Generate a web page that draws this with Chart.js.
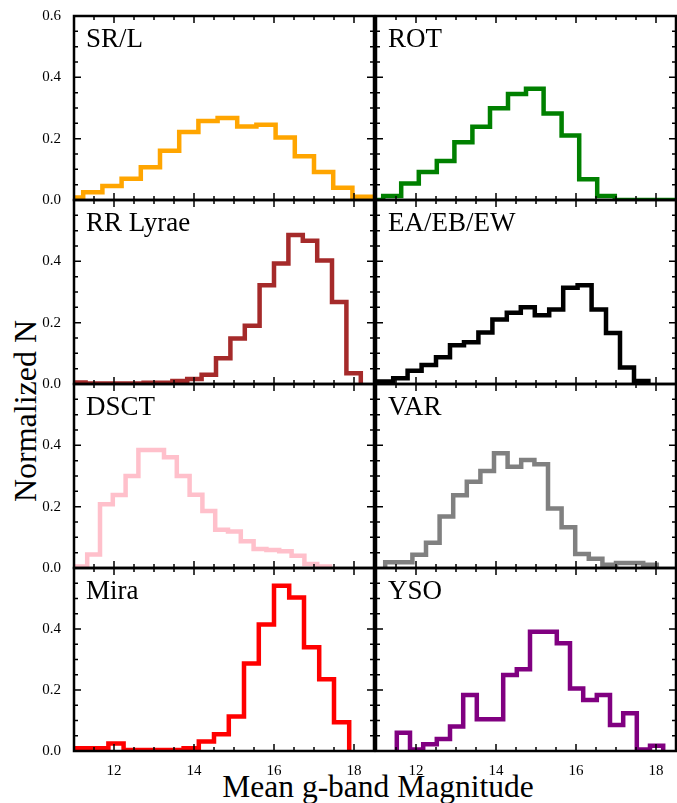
<!DOCTYPE html>
<html>
<head>
<meta charset="utf-8">
<title>Mean g-band Magnitude by variable type</title>
<script src="https://cdn.jsdelivr.net/npm/chart.js@4.4.0/dist/chart.umd.min.js"></script>
<style>
  html, body { margin: 0; padding: 0; background: #fff; }
  #wrap { position: relative; width: 677px; height: 803px; overflow: hidden; font-family: 'Liberation Serif', serif; color: #000; }
  #wrap canvas { position: absolute; left: 0; top: 0; }
  .axis-title { position: absolute; white-space: nowrap; line-height: 1; }
  #xTitle { left: 378px; top: 771px; font-size: 31.5px; transform: translateX(-50%); }
  #yTitle { left: 25px; top: 411px; font-size: 32px; transform: translate(-50%, -50%) rotate(-90deg); }
</style>
</head>
<body>
<div id="wrap">
  <div class="axis-title" id="xTitle">Mean g-band Magnitude</div>
  <div class="axis-title" id="yTitle">Normalized N</div>
</div>
<script>
// Bin edges and normalized counts
const srlEdges = [10.75, 11.23, 11.71, 12.19, 12.67, 13.15, 13.63, 14.11, 14.59, 15.08, 15.56, 16.04, 16.52, 17.00, 17.48, 17.96, 18.44];
const srlValues = [0.008, 0.025, 0.046, 0.069, 0.107, 0.161, 0.222, 0.258, 0.267, 0.240, 0.245, 0.204, 0.143, 0.091, 0.040, 0.011];

const rotEdges = [10.73, 11.18, 11.63, 12.07, 12.52, 12.96, 13.41, 13.85, 14.30, 14.75, 15.19, 15.64, 16.08, 16.53, 16.97, 17.42, 17.86, 18.31, 18.76];
const rotValues = [0, 0.013, 0.054, 0.091, 0.127, 0.188, 0.239, 0.299, 0.346, 0.363, 0.282, 0.210, 0.068, 0.013, 0, 0, 0, 0];

const rrlEdges = [10.93, 11.29, 11.65, 12.02, 12.38, 12.74, 13.10, 13.46, 13.83, 14.19, 14.55, 14.91, 15.27, 15.64, 16.00, 16.36, 16.72, 17.08, 17.45, 17.81, 18.17];
const rrlValues = [0.005, 0.002, 0.002, 0.002, 0.002, 0.004, 0.004, 0.010, 0.016, 0.030, 0.084, 0.148, 0.190, 0.322, 0.393, 0.486, 0.467, 0.403, 0.267, 0.035];

const eclEdges = [11.08, 11.43, 11.79, 12.14, 12.50, 12.85, 13.20, 13.56, 13.91, 14.27, 14.62, 14.97, 15.33, 15.68, 16.04, 16.39, 16.75, 17.10, 17.45, 17.81];
const eclValues = [0.008, 0.019, 0.043, 0.062, 0.087, 0.126, 0.136, 0.168, 0.210, 0.232, 0.250, 0.224, 0.243, 0.314, 0.322, 0.243, 0.166, 0.054, 0.010];

const dsctEdges = [11.01, 11.33, 11.65, 11.97, 12.29, 12.61, 12.93, 13.25, 13.57, 13.89, 14.21, 14.53, 14.85, 15.17, 15.49, 15.81, 16.13, 16.44, 16.76, 17.08, 17.40];
const dsctValues = [0.005, 0.044, 0.208, 0.238, 0.300, 0.385, 0.385, 0.361, 0.300, 0.239, 0.186, 0.125, 0.119, 0.087, 0.062, 0.059, 0.055, 0.040, 0.013, 0.005];

const varEdges = [11.23, 11.57, 11.91, 12.25, 12.59, 12.93, 13.27, 13.61, 13.95, 14.29, 14.63, 14.96, 15.30, 15.64, 15.98, 16.32, 16.66, 17.00, 17.34, 17.68, 18.02];
const varValues = [0.019, 0.019, 0.043, 0.082, 0.168, 0.237, 0.281, 0.316, 0.374, 0.330, 0.352, 0.338, 0.194, 0.133, 0.046, 0.030, 0.011, 0.016, 0.016, 0.011];

const miraEdges = [10.74, 11.11, 11.49, 11.86, 12.24, 12.62, 12.99, 13.37, 13.74, 14.12, 14.50, 14.87, 15.25, 15.62, 16.00, 16.38, 16.75, 17.13, 17.50, 17.88];
const miraValues = [0.009, 0.009, 0.009, 0.025, 0.003, 0.003, 0.003, 0.003, 0.009, 0.031, 0.055, 0.113, 0.287, 0.415, 0.542, 0.503, 0.340, 0.235, 0.094];

const ysoEdges = [11.52, 11.85, 12.18, 12.52, 12.85, 13.18, 13.52, 13.85, 14.18, 14.52, 14.85, 15.18, 15.52, 15.85, 16.18, 16.52, 16.85, 17.18, 17.52, 17.85, 18.18];
const ysoValues = [0.060, 0.005, 0.022, 0.039, 0.080, 0.184, 0.104, 0.104, 0.249, 0.268, 0.391, 0.391, 0.353, 0.205, 0.167, 0.184, 0.085, 0.124, 0.005, 0.017];

const panelNames = ['SR/L', 'ROT', 'RR Lyrae', 'EA/EB/EW', 'DSCT', 'VAR', 'Mira', 'YSO'];
const panelColors = ['#ffa500', '#008000', '#a52a2a', '#000000', '#ffc0cb', '#808080', '#ff0000', '#800080'];

// Axis ranges and ticks
const xMin = 11, xMax = 18.5;
const yMin = 0, yMax = 0.6;
const xMajorTicks = [12, 14, 16, 18];
const yMajorTicks = [0, 0.2, 0.4, 0.6];
const xMinorStep = 0.5;
const yMinorStep = 0.05;

// Page geometry (pixels)
const W = 677, H = 803;
const colLeft = [74, 376], colRight = [374, 676];
const rowTop = [16, 200, 384, 568], rowBottom = [200, 384, 568, 751];

const serif = '"Liberation Serif", "Times New Roman", serif';
Chart.defaults.font.family = serif;
Chart.defaults.color = '#000';

// step outline of a histogram: start at 0, one point per bin, back to 0
function histPoints(edges, values) {
    const pts = [{ x: edges[0], y: 0 }];
    values.forEach((v, i) => pts.push({ x: edges[i], y: v }));
    pts.push({ x: edges[edges.length - 1], y: 0 });
    return pts;
}

// frame, inward ticks and the panel name
const panelDecor = {
    id: 'panelDecor',
    afterDatasetsDraw(chart) {
        const { ctx, chartArea: a, scales: { x, y } } = chart;
        ctx.save();
        ctx.strokeStyle = '#000';
        ctx.lineWidth = 1.5;
        ctx.beginPath();
        for (let v = xMin; v <= xMax + 1e-9; v += xMinorStep) {
            const px = x.getPixelForValue(v);
            const len = xMajorTicks.includes(v) ? 7 : 4;
            ctx.moveTo(px, a.bottom); ctx.lineTo(px, a.bottom - len);
            ctx.moveTo(px, a.top); ctx.lineTo(px, a.top + len);
        }
        const nY = Math.round((yMax - yMin) / yMinorStep);
        for (let i = 0; i <= nY; i++) {
            const v = yMin + i * yMinorStep;
            const py = y.getPixelForValue(v);
            const len = yMajorTicks.some(t => Math.abs(t - v) < 1e-6) ? 7 : 4;
            ctx.moveTo(a.left, py); ctx.lineTo(a.left + len, py);
            ctx.moveTo(a.right, py); ctx.lineTo(a.right - len, py);
        }
        ctx.stroke();
        ctx.lineWidth = 2.5;
        ctx.strokeRect(a.left, a.top, a.right - a.left, a.bottom - a.top);
        ctx.fillStyle = '#000';
        ctx.font = '27px ' + serif;
        ctx.textBaseline = 'alphabetic';
        ctx.fillText(chart.data.datasets[0].label, a.left + 12, a.top + 31);
        ctx.restore();
    }
};

const panelData = [
    [srlEdges, srlValues], [rotEdges, rotValues],
    [rrlEdges, rrlValues], [eclEdges, eclValues],
    [dsctEdges, dsctValues], [varEdges, varValues],
    [miraEdges, miraValues], [ysoEdges, ysoValues]
];

function drawPanels() {
    const wrap = document.getElementById('wrap');

    panelData.forEach(([edges, values], k) => {
        const r = Math.floor(k / 2), c = k % 2;
        const yW = c === 0 ? 60 : 0;
        const xH = r === 3 ? 30 : 0;

        const canvas = document.createElement('canvas');
        canvas.width = W;
        canvas.height = H;
        wrap.appendChild(canvas);

        new Chart(canvas, {
            type: 'line',
            data: {
                datasets: [{
                    label: panelNames[k],
                    data: histPoints(edges, values),
                    borderColor: panelColors[k],
                    borderWidth: 4.5,
                    stepped: true,
                    pointRadius: 0,
                    fill: false,
                    clip: 0,
                    borderJoinStyle: 'miter',
                    borderCapStyle: 'butt'
                }]
            },
            options: {
                responsive: false,
                animation: false,
                events: [],
                layout: {
                    autoPadding: false,
                    padding: {
                        left: colLeft[c] - yW,
                        right: W - colRight[c],
                        top: rowTop[r],
                        bottom: H - rowBottom[r] - xH
                    }
                },
                plugins: {
                    legend: { display: false },
                    tooltip: { enabled: false }
                },
                scales: {
                    x: {
                        type: 'linear',
                        min: xMin,
                        max: xMax,
                        grid: { display: false },
                        border: { display: false },
                        ticks: {
                            display: r === 3,
                            stepSize: 2,
                            includeBounds: false,
                            autoSkip: false,
                            maxRotation: 0,
                            padding: 3,
                            font: { size: 15 },
                            callback: v => String(v)
                        },
                        afterFit: s => { s.height = xH; }
                    },
                    y: {
                        type: 'linear',
                        min: yMin,
                        max: yMax,
                        grid: { display: false },
                        border: { display: false },
                        ticks: {
                            display: c === 0,
                            stepSize: 0.2,
                            padding: 5,
                            font: { size: 15 },
                            callback: v => (r > 0 && v > 0.55) ? '' : v.toFixed(1)
                        },
                        afterFit: s => { s.width = yW; }
                    }
                }
            },
            plugins: [panelDecor]
        });
    });
}

// make sure the serif face is ready before the canvases use it
Promise.all([
    document.fonts.load('15px "Liberation Serif"'),
    document.fonts.load('27px "Liberation Serif"')
]).then(drawPanels, drawPanels);
</script>
</body>
</html>
